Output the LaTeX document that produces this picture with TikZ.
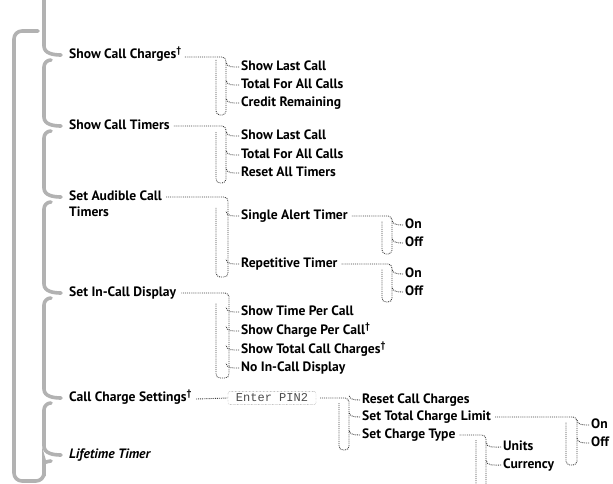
\documentclass[tikz,border=0pt]{standalone}
\usepackage{fontspec}
\setmainfont{PT Sans}
\setmonofont{Liberation Mono}
\begin{document}
\begin{tikzpicture}[x=1pt,y=-1pt,
  lbl/.style={anchor=west,inner sep=0pt,text height=10pt,text depth=3pt,
    font=\bfseries\fontsize{13.6}{16}\selectfont},
  trunk/.style={draw=gray!60,line width=3.6pt,line cap=round},
  dotl/.style={draw=black!75,densely dotted,line width=0.9pt,rounded corners=4pt},
  tick/.style={draw=black!75,densely dotted,line width=0.9pt},
  pinbox/.style={draw=black!55,densely dotted,rounded corners=2pt,minimum width=88pt,
    inner xsep=3pt,inner ysep=2.5pt,text=black!70,font=\ttfamily\fontsize{12}{13}\selectfont}]
\useasboundingbox (0,0) rectangle (613,483);
% top level items
\node[lbl] (scc) at (69,55) {Show Call Charges\textsuperscript{\textdagger}};
\node[lbl] (sct) at (69,126) {Show Call Timers};
\node[lbl] (sac) at (69,197) {Set Audible Call};
\node[lbl] (sac2) at (69,213) {Timers};
\node[lbl] (sid) at (69,293) {Set In-Call Display};
\node[lbl] (ccs) at (69,398) {Call Charge Settings\textsuperscript{\textdagger}};
\node[lbl,font=\bfseries\itshape\fontsize{13.6}{16}\selectfont] (lt) at (69,455) {Lifetime Timer};
% children
\node[lbl] (c11) at (241,67) {Show Last Call};
\node[lbl] (c12) at (241,85) {Total For All Calls};
\node[lbl] (c13) at (241,103) {Credit Remaining};
\node[lbl] (c21) at (241,136) {Show Last Call};
\node[lbl] (c22) at (241,155) {Total For All Calls};
\node[lbl] (c23) at (241,173) {Reset All Timers};
\node[lbl] (c31) at (241,216) {Single Alert Timer};
\node[lbl] (c32) at (241,264) {Repetitive Timer};
\node[lbl] (on1) at (405,225) {On};
\node[lbl] (off1) at (405,243) {Off};
\node[lbl] (on2) at (405,274) {On};
\node[lbl] (off2) at (405,292) {Off};
\node[lbl] (c41) at (241,312) {Show Time Per Call};
\node[lbl] (c42) at (241,331) {Show Charge Per Call\textsuperscript{\textdagger}};
\node[lbl] (c43) at (241,350) {Show Total Call Charges\textsuperscript{\textdagger}};
\node[lbl] (c44) at (241,368) {No In-Call Display};
\node[pinbox] (pin) at (272,398) {Enter PIN2};
\node[lbl] (c51) at (362,400) {Reset Call Charges};
\node[lbl] (c52) at (362,417) {Set Total Charge Limit};
\node[lbl] (c53) at (362,435) {Set Charge Type};
\node[lbl] (on3) at (591,425) {On};
\node[lbl] (off3) at (591,443) {Off};
\node[lbl] (units) at (503,447) {Units};
\node[lbl] (cur) at (503,465) {Currency};
% trunk coordinates
\coordinate (ttop) at (44,0);
\coordinate (otop) at (38,31);
% thick trunk: outer bracket
\draw[trunk,rounded corners=8pt] (otop) -- (14,31) -- (14,481) -- (44,481) -- (44,468)
  to[out=90,in=180] ([xshift=-18pt,yshift=-6pt]lt.west);
% thick trunk: inner segments
\draw[trunk] (ttop) -- ([xshift=-25pt,yshift=9pt]scc.west) to[out=-90,in=180] ([xshift=-8pt]scc.west);
\draw[trunk] ([xshift=-18pt,yshift=-5pt]scc.west) to[out=180,in=90] ([xshift=-25pt,yshift=-12pt]scc.west)
  -- ([xshift=-25pt,yshift=9pt]sct.west) to[out=-90,in=180] ([xshift=-8pt]sct.west);
\draw[trunk] ([xshift=-18pt,yshift=-5pt]sct.west) to[out=180,in=90] ([xshift=-25pt,yshift=-12pt]sct.west)
  -- ([xshift=-25pt,yshift=9pt]sac.west) to[out=-90,in=180] ([xshift=-8pt]sac.west);
\draw[trunk] ([xshift=-18pt,yshift=-5pt]sac.west) to[out=180,in=90] ([xshift=-25pt,yshift=-12pt]sac.west)
  -- ([xshift=-25pt,yshift=9pt]sid.west) to[out=-90,in=180] ([xshift=-8pt]sid.west);
\draw[trunk] ([xshift=-18pt,yshift=-5pt]sid.west) to[out=180,in=90] ([xshift=-25pt,yshift=-12pt]sid.west)
  -- ([xshift=-25pt,yshift=9pt]ccs.west) to[out=-90,in=180] ([xshift=-8pt]ccs.west);
\draw[trunk] ([xshift=-18pt,yshift=-5pt]ccs.west) to[out=180,in=90] ([xshift=-25pt,yshift=-12pt]ccs.west)
  -- ([xshift=-25pt,yshift=9pt]lt.west) to[out=-90,in=180] ([xshift=-8pt]lt.west);
% bracket corners: right side bottom (R) and left side bottom (L)
\coordinate (b1R) at (226,115); \coordinate (b1L) at (216,115);
\coordinate (b2R) at (226,183); \coordinate (b2L) at (216,183);
\coordinate (b3R) at (228,277); \coordinate (b3L) at (216,277);
\coordinate (b4R) at (229,378); \coordinate (b4L) at (216,378);
\coordinate (b5R) at (349,450); \coordinate (b5L) at (339,450);
\coordinate (b6R) at (392,254); \coordinate (b6L) at (382,254);
\coordinate (b7R) at (392,302); \coordinate (b7L) at (382,302);
\coordinate (b8R) at (577,465); \coordinate (b8L) at (566,465);
\coordinate (b9R) at (486,490); \coordinate (b9L) at (476,490);
% brackets
\draw[dotl] ([xshift=3pt,yshift=-2pt]scc.east) -| (b1R) -- (b1L) -- ([yshift=-4pt]b1L |- scc.east);
\draw[dotl] ([xshift=4pt]sct.east) -| (b2R) -- (b2L) -- ([yshift=-6pt]b2L |- sct.east);
\draw[dotl] ([xshift=4pt]sac.east) -| (b3R) -- (b3L) -- ([yshift=-10pt]b3L |- sac.east);
\draw[dotl] ([xshift=5pt]sid.east) -| (b4R) -- (b4L) -- ([yshift=-10pt]b4L |- sid.east);
\draw[tick] ([xshift=4pt,yshift=-1pt]ccs.east) -- (pin.west);
\draw[dotl] ([xshift=4pt]pin.east) -| (b5R) -- (b5L) -- ([yshift=-5pt]b5L |- pin.east);
\draw[dotl] ([xshift=4pt]c31.east) -| (b6R) -- (b6L) -- ([yshift=-5pt]b6L |- c31.east);
\draw[dotl] ([xshift=4pt]c32.east) -| (b7R) -- (b7L) -- ([yshift=-5pt]b7L |- c32.east);
\draw[dotl] ([xshift=4pt]c52.east) -| (b8R) -- (b8L) -- ([yshift=-5pt]b8L |- c52.east);
\draw[dotl] ([xshift=4pt]c53.east) -| (b9R) -- (b9L) -- ([yshift=-5pt]b9L |- c53.east);
% ticks
\foreach \c in {c11,c12,c13,c21,c22,c23,c31,c32,c41,c42,c43,c44}
  \draw[tick] ([xshift=-2pt]\c.west) to[out=180,in=-90] ++(-13,-5);
\foreach \c in {c51,c52,c53}
  \draw[tick] ([xshift=-2pt]\c.west) to[out=180,in=-90] ++(-11,-5);
\foreach \c in {on1,off1,on2,off2}
  \draw[tick] ([xshift=-2pt]\c.west) to[out=180,in=-90] ++(-11,-5);
\foreach \c in {on3,off3}
  \draw[tick] ([xshift=-2pt]\c.west) to[out=180,in=-90] ++(-12,-5);
\foreach \c in {units,cur}
  \draw[tick] ([xshift=-2pt]\c.west) to[out=180,in=-90] ++(-15,-5);
\end{tikzpicture}
\end{document}
